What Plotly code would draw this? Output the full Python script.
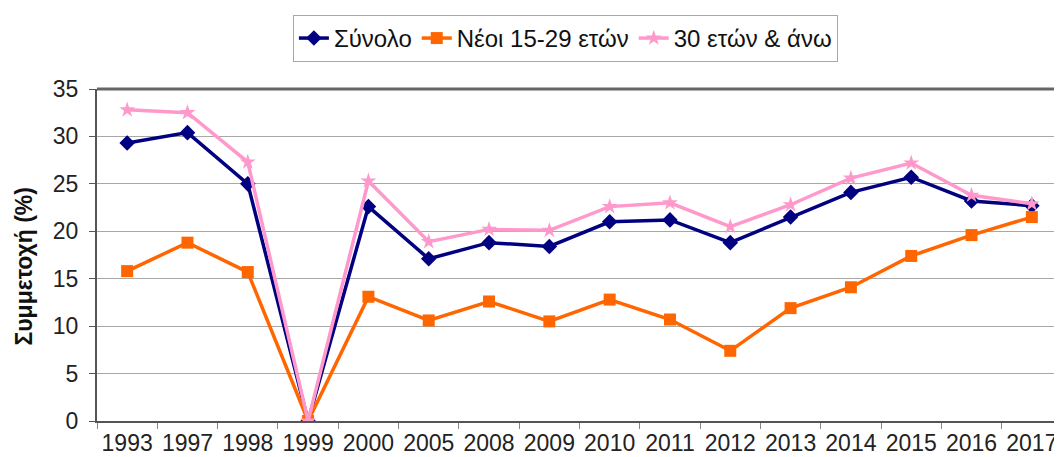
import plotly.graph_objects as go

years = ["1993", "1997", "1998", "1999", "2000", "2005", "2008", "2009",
         "2010", "2011", "2012", "2013", "2014", "2015", "2016", "2017"]
total = [29.3, 30.4, 25.0, 0.0, 22.6, 17.1, 18.8, 18.4,
         21.0, 21.2, 18.8, 21.5, 24.1, 25.7, 23.2, 22.7]
young = [15.8, 18.8, 15.7, 0.0, 13.1, 10.6, 12.6, 10.5,
         12.8, 10.7, 7.4, 11.9, 14.1, 17.4, 19.6, 21.5]
older = [32.8, 32.5, 27.3, 0.0, 25.3, 18.9, 20.2, 20.1,
         22.6, 23.0, 20.5, 22.8, 25.6, 27.2, 23.8, 22.9]

names = ["Σύνολο", "Νέοι 15-29 ετών", "30 ετών & άνω"]
yaxis_title = "Συμμετοχή (%)"

FONT = "Liberation Sans, Arial, sans-serif"

fig = go.Figure()
fig.add_trace(go.Scatter(x=years, y=total, name=names[0], mode="lines+markers",
                         line=dict(color="#000080", width=3.5),
                         marker=dict(symbol="diamond", size=12, color="#000080")))
fig.add_trace(go.Scatter(x=years, y=young, name=names[1], mode="lines+markers",
                         line=dict(color="#FF6600", width=3.5),
                         marker=dict(symbol="square", size=12, color="#FF6600")))
fig.add_trace(go.Scatter(x=years, y=older, name=names[2], mode="lines+markers",
                         line=dict(color="#FF99CC", width=3.5),
                         marker=dict(symbol="star", size=12, color="#FF99CC")))

# the page body has an 8px margin, so the figure is sized/offset to compensate
fig.update_layout(
    width=1054, height=449,
    margin=dict(l=89, r=0, t=81, b=36, autoexpand=False),
    paper_bgcolor="white", plot_bgcolor="white",
    font=dict(family=FONT, color="#222222"),
    showlegend=True,
    legend=dict(orientation="h", x=0.203, y=1.223, xanchor="left", yanchor="top",
                bordercolor="#a8a8a8", borderwidth=1, bgcolor="white",
                font=dict(size=24, family=FONT, color="#111111"),
                itemwidth=30, tracegroupgap=0),
    xaxis=dict(type="category", showgrid=False, showline=True, linecolor="#555555",
               linewidth=2, ticks="outside", tickson="boundaries", ticklen=6,
               tickcolor="#888888", tickangle=0,
               tickfont=dict(size=23, family=FONT, color="#222222"),
               mirror=False, range=[-0.5, 15.5], automargin=False),
    yaxis=dict(range=[0, 35], dtick=5, showgrid=True, gridcolor="#a8a8a8", gridwidth=1.2,
               showline=True, linecolor="#555555", linewidth=2, ticks="outside",
               ticklen=6, tickcolor="#555555", ticklabelstandoff=6,
               tickfont=dict(size=23, family=FONT, color="#222222"), zeroline=False,
               automargin=False),
)
fig.add_shape(type="line", xref="paper", yref="paper", x0=0, x1=1, y0=1, y1=1,
              line=dict(color="#666666", width=3))
fig.add_annotation(text="<b>" + yaxis_title + "</b>", xref="paper", yref="paper",
                   x=-0.076, y=0.467, textangle=-90, showarrow=False,
                   font=dict(size=23, family=FONT, color="#111111"),
                   xanchor="center", yanchor="middle")

fig.write_html("out.html")
